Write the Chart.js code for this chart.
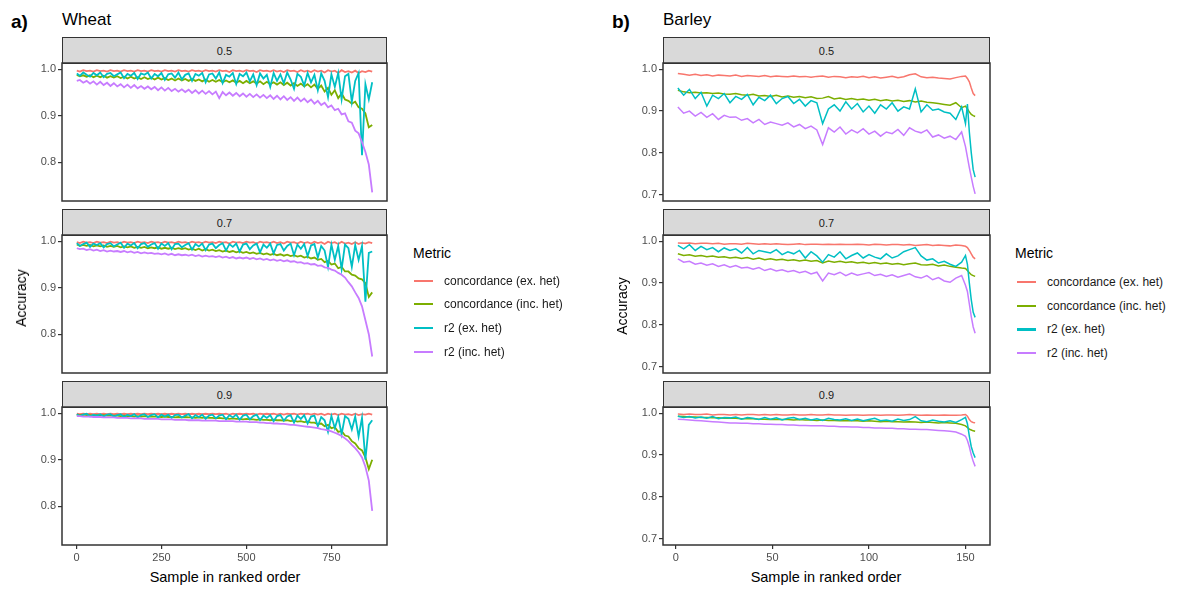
<!DOCTYPE html>
<html>
<head>
<meta charset="utf-8">
<script src="https://cdn.jsdelivr.net/npm/chart.js@4.4.0/dist/chart.umd.min.js"></script>
<style>
  body { margin: 0; background: #fff; font-family: "Liberation Sans", Arial, sans-serif; }
  #page { position: relative; width: 1192px; height: 590px; overflow: hidden; }
  .txt { position: absolute; white-space: nowrap; line-height: 1; }
  .strip { position: absolute; box-sizing: border-box; background: #d9d9d9; border: 1.5px solid #333;
           font-size: 11px; color: #1a1a1a; display: flex; align-items: center; justify-content: center; }
  .key { position: absolute; }
</style>
</head>
<body>
<div id="page"></div>
<script>
// ---- data ----
const metrics = ['concordance (ex. het)', 'concordance (inc. het)', 'r2 (ex. het)', 'r2 (inc. het)'];
const thresholds = ['0.5', '0.7', '0.9'];

const wheatTicksX = [0, 250, 500, 750];
const wheatTicksY = [0.8, 0.9, 1.0];
const barleyTicksX = [0, 50, 100, 150];
const barleyTicksY = [0.7, 0.8, 0.9, 1.0];

const wheatSamples = [
  1,10,20,30,40,50,60,70,80,90,
  100,110,120,130,140,150,160,170,180,190,
  200,210,220,230,240,250,260,270,280,290,
  300,310,320,330,340,350,360,370,380,390,
  400,410,420,430,440,450,460,470,480,490,
  500,510,520,530,540,550,560,570,580,590,
  600,610,620,630,640,650,660,670,680,690,
  700,710,720,730,740,750,760,770,780,790,
  800,810,820,830,840,850,860,870
];

const barleySamples = [
  1,4,7,10,13,16,19,22,25,28,
  31,34,37,40,43,46,49,52,55,58,
  61,64,67,70,73,76,79,82,85,88,
  91,94,97,100,103,106,109,112,115,118,
  121,124,127,130,133,136,139,142,145,148,
  150,151,152,153,154,155
];

// wheat, threshold 0.5
const wheat05ConcEx = [
  .997,.995,.998,.996,.997,.995,.998,.996,.997,.995,
  .998,.996,.997,.995,.998,.996,.997,.995,.998,.996,
  .997,.995,.998,.996,.997,.995,.998,.996,.997,.995,
  .998,.996,.997,.995,.998,.996,.997,.995,.998,.996,
  .997,.995,.998,.996,.997,.994,.998,.996,.997,.995,
  .998,.996,.997,.994,.998,.996,.997,.995,.998,.995,
  .997,.994,.998,.996,.997,.994,.998,.995,.997,.994,
  .998,.995,.997,.993,.998,.995,.997,.992,.998,.994,
  .996,.993,.997,.992,.996,.994,.997,.995
];
const wheat05ConcInc = [
  .988,.985,.987,.984,.987,.983,.986,.983,.986,.982,
  .985,.982,.985,.981,.984,.980,.984,.980,.983,.979,
  .983,.979,.982,.978,.982,.978,.981,.977,.980,.976,
  .980,.976,.979,.975,.979,.975,.978,.974,.978,.973,
  .977,.973,.977,.972,.976,.972,.976,.971,.975,.970,
  .975,.970,.974,.969,.974,.968,.973,.968,.972,.967,
  .972,.966,.971,.965,.970,.964,.969,.963,.968,.961,
  .967,.958,.965,.952,.960,.945,.955,.938,.948,.935,
  .932,.926,.930,.918,.915,.905,.875,.880
];
const wheat05R2Ex = [
  .991,.986,.993,.988,.984,.992,.987,.993,.983,.990,
  .992,.985,.989,.993,.981,.990,.986,.992,.979,.991,
  .988,.993,.980,.990,.985,.992,.977,.989,.991,.982,
  .993,.978,.988,.991,.975,.990,.986,.992,.972,.989,
  .991,.980,.993,.970,.988,.984,.992,.968,.990,.985,
  .993,.974,.989,.966,.991,.980,.988,.962,.992,.975,
  .989,.970,.993,.978,.958,.990,.984,.965,.992,.972,
  .988,.955,.991,.975,.940,.989,.962,.992,.935,.985,
  .990,.930,.975,.992,.815,.968,.935,.972
];
const wheat05R2Inc = [
  .975,.977,.971,.975,.969,.974,.967,.973,.966,.971,
  .964,.970,.963,.968,.961,.967,.960,.966,.959,.964,
  .958,.963,.957,.962,.955,.961,.954,.960,.953,.958,
  .952,.957,.951,.956,.949,.955,.948,.954,.947,.953,
  .946,.952,.938,.951,.944,.950,.943,.949,.942,.948,
  .941,.947,.940,.946,.939,.945,.938,.944,.936,.943,
  .935,.942,.934,.940,.932,.939,.931,.937,.929,.935,
  .926,.932,.923,.928,.918,.922,.912,.915,.903,.905,
  .888,.885,.868,.862,.843,.822,.795,.735
];

// wheat, threshold 0.7
const wheat07ConcEx = [
  .998,.996,.999,.997,.998,.996,.999,.997,.998,.996,
  .999,.997,.998,.996,.999,.997,.998,.996,.999,.997,
  .998,.996,.999,.997,.998,.996,.999,.997,.998,.996,
  .999,.997,.998,.996,.999,.997,.998,.996,.999,.997,
  .998,.996,.999,.997,.998,.995,.999,.997,.998,.996,
  .999,.997,.998,.995,.999,.997,.998,.996,.999,.996,
  .998,.995,.999,.997,.998,.995,.999,.996,.998,.995,
  .999,.996,.998,.994,.999,.996,.998,.994,.999,.995,
  .997,.994,.998,.994,.997,.995,.998,.996
];
const wheat07ConcInc = [
  .993,.990,.992,.990,.992,.989,.991,.989,.991,.988,
  .990,.988,.990,.987,.989,.987,.989,.986,.988,.986,
  .988,.985,.987,.985,.987,.984,.986,.984,.986,.983,
  .985,.983,.985,.982,.984,.981,.984,.980,.983,.980,
  .982,.979,.981,.978,.980,.977,.979,.976,.978,.975,
  .977,.974,.976,.973,.975,.972,.974,.971,.973,.970,
  .972,.969,.971,.968,.970,.967,.969,.965,.967,.963,
  .965,.960,.962,.955,.958,.950,.952,.942,.945,.935,
  .935,.928,.926,.920,.918,.910,.880,.890
];
const wheat07R2Ex = [
  .996,.990,.994,.997,.988,.995,.992,.996,.987,.994,
  .996,.989,.993,.997,.986,.995,.991,.996,.985,.994,
  .996,.988,.993,.996,.984,.995,.990,.996,.983,.994,
  .995,.987,.992,.996,.982,.994,.989,.995,.981,.993,
  .995,.985,.992,.996,.980,.994,.988,.995,.978,.993,
  .995,.983,.991,.995,.976,.993,.986,.995,.974,.992,
  .994,.980,.990,.995,.970,.993,.984,.994,.968,.991,
  .994,.965,.990,.980,.945,.993,.960,.990,.940,.993,
  .985,.945,.992,.960,.990,.870,.975,.978
];
const wheat07R2Inc = [
  .985,.983,.984,.981,.983,.980,.982,.979,.981,.978,
  .980,.978,.979,.977,.979,.976,.978,.975,.977,.974,
  .976,.974,.975,.973,.974,.972,.974,.971,.973,.970,
  .972,.970,.971,.969,.971,.968,.970,.967,.969,.967,
  .968,.966,.968,.965,.967,.964,.966,.963,.965,.963,
  .965,.962,.964,.961,.963,.960,.962,.959,.961,.958,
  .960,.957,.959,.956,.957,.954,.955,.952,.953,.950,
  .951,.947,.948,.944,.943,.939,.937,.932,.928,.922,
  .912,.903,.890,.878,.860,.830,.800,.752
];

// wheat, threshold 0.9
const wheat09ConcEx = [
  .999,.998,.999,.998,.999,.998,.999,.998,.999,.998,
  .999,.998,.999,.998,.999,.998,.999,.998,.999,.998,
  .999,.998,.999,.998,.999,.998,.999,.998,.999,.998,
  .999,.998,.999,.998,.999,.998,.999,.998,.999,.998,
  .999,.998,.999,.998,.999,.997,.999,.998,.999,.998,
  .999,.998,.999,.997,.999,.998,.999,.998,.999,.997,
  .999,.997,.999,.998,.999,.997,.999,.998,.999,.997,
  .999,.997,.999,.996,.999,.997,.999,.996,.999,.997,
  .998,.996,.999,.996,.998,.997,.999,.997
];
const wheat09ConcInc = [
  .997,.996,.997,.996,.996,.995,.996,.995,.996,.995,
  .995,.995,.995,.994,.995,.994,.994,.993,.994,.993,
  .994,.993,.993,.993,.993,.992,.993,.992,.992,.991,
  .992,.991,.992,.991,.991,.990,.991,.990,.991,.990,
  .990,.989,.990,.989,.989,.988,.989,.988,.988,.987,
  .988,.987,.987,.986,.987,.986,.986,.985,.986,.985,
  .985,.984,.985,.983,.984,.982,.983,.981,.982,.980,
  .980,.977,.978,.972,.975,.968,.970,.960,.962,.952,
  .950,.940,.935,.925,.920,.905,.880,.900
];
const wheat09R2Ex = [
  .998,.994,.997,.999,.993,.997,.995,.998,.993,.997,
  .998,.993,.996,.998,.992,.997,.994,.998,.991,.996,
  .998,.992,.996,.998,.991,.997,.993,.997,.990,.996,
  .997,.991,.995,.998,.989,.996,.992,.997,.988,.995,
  .997,.989,.995,.997,.987,.996,.991,.997,.986,.995,
  .997,.987,.994,.997,.985,.995,.990,.996,.983,.994,
  .996,.984,.993,.996,.980,.995,.988,.996,.978,.993,
  .995,.972,.992,.985,.960,.994,.968,.992,.955,.994,
  .988,.965,.993,.950,.990,.900,.975,.985
];
const wheat09R2Inc = [
  .994,.994,.993,.993,.993,.992,.992,.992,.991,.991,
  .991,.991,.990,.990,.990,.990,.989,.989,.989,.989,
  .988,.988,.988,.988,.988,.987,.987,.987,.987,.986,
  .986,.986,.986,.985,.985,.985,.985,.984,.984,.984,
  .984,.984,.983,.983,.983,.983,.983,.982,.982,.982,
  .982,.981,.981,.981,.980,.980,.979,.979,.978,.978,
  .977,.977,.976,.975,.975,.974,.973,.972,.971,.970,
  .969,.968,.966,.965,.963,.961,.958,.955,.951,.946,
  .940,.932,.925,.916,.905,.885,.855,.790
];

// barley, threshold 0.5
const barley05ConcEx = [
  .990,.988,.986,.988,.985,.987,.984,.986,.985,.984,
  .986,.983,.985,.984,.983,.985,.982,.984,.983,.982,
  .984,.982,.983,.981,.983,.984,.981,.983,.982,.980,
  .982,.981,.983,.980,.982,.979,.981,.983,.980,.982,
  .987,.989,.982,.980,.981,.979,.978,.977,.980,.983,
  .984,.978,.970,.955,.942,.937
];
const barley05ConcInc = [
  .950,.946,.944,.945,.943,.944,.942,.943,.941,.940,
  .942,.939,.938,.940,.936,.937,.935,.938,.934,.936,
  .933,.935,.932,.934,.930,.931,.935,.929,.931,.928,
  .930,.927,.929,.926,.928,.925,.927,.924,.926,.923,
  .925,.922,.924,.921,.920,.918,.916,.914,.920,.908,
  .912,.905,.898,.892,.889,.887
];
const barley05R2Ex = [
  .955,.938,.952,.930,.945,.912,.938,.930,.942,.920,
  .935,.928,.940,.915,.933,.925,.938,.918,.930,.935,
  .918,.928,.912,.925,.920,.870,.905,.915,.900,.922,
  .905,.918,.898,.912,.895,.915,.905,.920,.900,.910,
  .905,.953,.898,.915,.902,.905,.898,.895,.880,.910,
  .870,.917,.850,.800,.760,.742
];
const barley05R2Inc = [
  .910,.895,.900,.888,.897,.885,.894,.880,.890,.885,
  .886,.878,.882,.872,.880,.868,.874,.870,.866,.872,
  .862,.868,.858,.864,.855,.820,.860,.850,.862,.845,
  .855,.848,.858,.845,.852,.840,.850,.846,.856,.842,
  .860,.852,.848,.855,.838,.843,.835,.840,.832,.850,
  .815,.790,.765,.742,.720,.702
];

// barley, threshold 0.7
const barley07ConcEx = [
  .996,.995,.996,.994,.995,.995,.994,.995,.993,.994,
  .994,.993,.995,.994,.993,.994,.993,.994,.993,.992,
  .993,.994,.992,.993,.993,.992,.993,.992,.993,.992,
  .992,.993,.992,.991,.993,.992,.991,.992,.992,.991,
  .992,.990,.991,.992,.990,.991,.990,.989,.991,.990,
  .988,.985,.978,.970,.962,.958
];
const barley07ConcInc = [
  .970,.966,.968,.964,.966,.963,.965,.962,.963,.960,
  .962,.959,.961,.957,.960,.956,.958,.955,.957,.954,
  .956,.953,.955,.952,.954,.948,.953,.950,.952,.949,
  .951,.948,.950,.947,.949,.946,.948,.945,.947,.944,
  .946,.948,.944,.943,.945,.941,.943,.940,.938,.936,
  .935,.930,.925,.920,.918,.916
];
const barley07R2Ex = [
  .990,.982,.992,.978,.988,.980,.985,.975,.984,.978,
  .982,.972,.985,.970,.978,.975,.972,.980,.968,.975,
  .970,.978,.960,.975,.965,.950,.968,.962,.975,.958,
  .966,.972,.960,.968,.962,.958,.970,.960,.965,.975,
  .980,.985,.965,.955,.958,.948,.952,.945,.940,.950,
  .966,.945,.900,.860,.830,.818
];
const barley07R2Inc = [
  .958,.950,.952,.945,.948,.943,.946,.940,.944,.938,
  .942,.936,.938,.933,.937,.930,.934,.929,.932,.927,
  .930,.925,.928,.922,.926,.905,.924,.920,.926,.918,
  .924,.919,.922,.925,.918,.921,.916,.920,.914,.918,
  .922,.915,.912,.918,.908,.913,.905,.902,.912,.918,
  .895,.880,.850,.820,.795,.780
];

// barley, threshold 0.9
const barley09ConcEx = [
  .998,.997,.998,.997,.997,.998,.996,.997,.997,.996,
  .997,.996,.997,.997,.996,.997,.996,.997,.996,.996,
  .997,.996,.996,.997,.996,.996,.997,.996,.996,.995,
  .996,.996,.995,.996,.996,.995,.996,.996,.995,.996,
  .997,.996,.995,.996,.995,.995,.996,.995,.995,.996,
  .997,.993,.985,.980,.978,.977
];
const barley09ConcInc = [
  .993,.992,.991,.991,.990,.990,.989,.989,.988,.988,
  .988,.987,.987,.987,.986,.986,.985,.986,.985,.985,
  .984,.985,.984,.984,.983,.984,.983,.983,.982,.983,
  .982,.982,.981,.982,.981,.980,.981,.980,.980,.979,
  .980,.979,.978,.979,.978,.977,.978,.977,.976,.973,
  .970,.966,.962,.960,.958,.957
];
const barley09R2Ex = [
  .993,.990,.992,.989,.991,.988,.992,.987,.990,.989,
  .991,.986,.990,.988,.985,.990,.986,.989,.984,.988,
  .990,.985,.988,.984,.987,.983,.988,.985,.984,.987,
  .983,.986,.982,.985,.988,.982,.984,.981,.986,.983,
  .985,.992,.982,.980,.984,.981,.979,.982,.978,.985,
  .990,.975,.945,.920,.905,.894
];
const barley09R2Inc = [
  .986,.985,.984,.983,.982,.981,.980,.979,.978,.977,
  .977,.976,.976,.975,.975,.974,.974,.973,.973,.972,
  .972,.971,.971,.970,.970,.970,.969,.969,.968,.968,
  .967,.967,.966,.966,.965,.965,.964,.964,.963,.963,
  .962,.962,.961,.961,.960,.959,.958,.957,.955,.950,
  .945,.935,.920,.900,.885,.873
];

// ---- layout / style ----
const colors = ['#F8766D', '#7CAE00', '#00BFC4', '#C77CFF'];
const Y_AXIS_W = 36;
const X_AXIS_H = 22;
const PAD = 2;

Chart.defaults.font.family = '"Liberation Sans", Arial, sans-serif';

const panels = [
  {
    xs: wheatSamples, ticksX: wheatTicksX, ticksY: wheatTicksY,
    series: [
      [wheat05ConcEx, wheat05ConcInc, wheat05R2Ex, wheat05R2Inc],
      [wheat07ConcEx, wheat07ConcInc, wheat07R2Ex, wheat07R2Inc],
      [wheat09ConcEx, wheat09ConcInc, wheat09R2Ex, wheat09R2Inc]
    ],
    plotLeft: 62, plotW: 325, stripTops: [37, 209, 381], stripH: 26, plotH: 138,
    xMin: -42.5, xMax: 913.5, yMin: 0.7165, yMax: 1.0135, lineW: 1.8
  },
  {
    xs: barleySamples, ticksX: barleyTicksX, ticksY: barleyTicksY,
    series: [
      [barley05ConcEx, barley05ConcInc, barley05R2Ex, barley05R2Inc],
      [barley07ConcEx, barley07ConcInc, barley07R2Ex, barley07R2Inc],
      [barley09ConcEx, barley09ConcInc, barley09R2Ex, barley09R2Inc]
    ],
    plotLeft: 663, plotW: 327, stripTops: [37, 209, 381], stripH: 26, plotH: 138,
    xMin: -6.7, xMax: 162.7, yMin: 0.685, yMax: 1.015, lineW: 1.5
  }
];

const page = document.getElementById('page');

function addText(text, css) {
  const d = document.createElement('div');
  d.className = 'txt';
  d.textContent = text;
  Object.assign(d.style, css);
  page.appendChild(d);
  return d;
}

const boxPlugin = {
  id: 'panelBox',
  afterDatasetsDraw(chart) {
    const a = chart.chartArea;
    const ctx = chart.ctx;
    ctx.save();
    ctx.strokeStyle = '#333';
    ctx.lineWidth = 1.5;
    ctx.strokeRect(a.left, a.top, a.right - a.left, a.bottom - a.top);
    ctx.restore();
  }
};

function makeFacet(p, i) {
  const plotTop = p.stripTops[i] + p.stripH;
  const isBottom = i === 2;

  const strip = document.createElement('div');
  strip.className = 'strip';
  strip.textContent = thresholds[i];
  Object.assign(strip.style, {
    left: p.plotLeft + 'px', top: p.stripTops[i] + 'px',
    width: p.plotW + 'px', height: (p.stripH + 1) + 'px'
  });
  page.appendChild(strip);

  const w = Y_AXIS_W + p.plotW + PAD;
  const h = PAD + p.plotH + (isBottom ? X_AXIS_H : PAD);
  const canvas = document.createElement('canvas');
  canvas.width = w;
  canvas.height = h;
  Object.assign(canvas.style, {
    position: 'absolute', left: (p.plotLeft - Y_AXIS_W) + 'px', top: (plotTop - PAD) + 'px',
    width: w + 'px', height: h + 'px'
  });
  page.appendChild(canvas);

  const datasets = p.series[i].map((ys, k) => ({
    label: metrics[k],
    data: p.xs.map((x, j) => ({ x: x, y: ys[j] })),
    borderColor: colors[k],
    backgroundColor: colors[k],
    borderWidth: p.lineW,
    pointRadius: 0,
    tension: 0,
    order: 4 - k
  }));

  const axisGrid = { display: true, drawOnChartArea: false, drawTicks: true, tickLength: 4, color: '#333', lineWidth: 1.2 };

  new Chart(canvas, {
    type: 'line',
    data: { datasets: datasets },
    options: {
      responsive: false,
      animation: false,
      layout: { padding: { top: PAD, right: PAD, left: 0, bottom: isBottom ? 0 : PAD } },
      plugins: { legend: { display: false }, tooltip: { enabled: false } },
      scales: {
        x: {
          type: 'linear', min: p.xMin, max: p.xMax, display: isBottom,
          grid: axisGrid, border: { display: false },
          ticks: { color: '#4d4d4d', font: { size: 11 }, padding: 2, maxRotation: 0, autoSkip: false },
          afterBuildTicks: s => { s.ticks = p.ticksX.map(v => ({ value: v })); },
          afterFit: s => { s.height = isBottom ? X_AXIS_H : 0; s.paddingLeft = 0; s.paddingRight = 0; }
        },
        y: {
          type: 'linear', min: p.yMin, max: p.yMax,
          grid: axisGrid, border: { display: false },
          ticks: { color: '#4d4d4d', font: { size: 11 }, padding: 2, callback: v => v.toFixed(1) },
          afterBuildTicks: s => { s.ticks = p.ticksY.map(v => ({ value: v })); },
          afterFit: s => { s.width = Y_AXIS_W; s.paddingTop = 0; s.paddingBottom = 0; }
        }
      }
    },
    plugins: [boxPlugin]
  });
}

panels.forEach(p => { for (let i = 0; i < 3; i++) makeFacet(p, i); });

// panel titles
addText('a)', { left: '11px', top: '12px', fontSize: '19px', fontWeight: 'bold', color: '#000' });
addText('Wheat', { left: '62px', top: '11px', fontSize: '17px', color: '#000' });
addText('b)', { left: '612px', top: '12px', fontSize: '19px', fontWeight: 'bold', color: '#000' });
addText('Barley', { left: '663px', top: '11px', fontSize: '17px', color: '#000' });

// axis titles
function yTitle(cx, cy) {
  const d = addText('Accuracy', { left: cx + 'px', top: cy + 'px', fontSize: '14px', color: '#000' });
  d.style.transform = 'translate(-50%, -50%) rotate(-90deg)';
}
yTitle(21, 298);
yTitle(622, 306);
function xTitle(cx, cy) {
  const d = addText('Sample in ranked order', { left: cx + 'px', top: cy + 'px', fontSize: '14.5px', color: '#000' });
  d.style.transform = 'translate(-50%, -50%)';
}
xTitle(225, 577);
xTitle(826, 577);

// legends
function legend(x0, titleY, lineX, textX, ys, widths) {
  addText('Metric', { left: x0 + 'px', top: (titleY - 8) + 'px', fontSize: '14px', color: '#000' });
  metrics.forEach((m, k) => {
    const line = document.createElement('div');
    line.className = 'key';
    Object.assign(line.style, {
      left: lineX + 'px', top: (ys[k] - widths[k] / 2) + 'px', width: '19px',
      height: widths[k] + 'px', background: colors[k]
    });
    page.appendChild(line);
    addText(m, { left: textX + 'px', top: (ys[k] - 6) + 'px', fontSize: '12px', color: '#1a1a1a' });
  });
}
legend(413, 254, 414, 444, [281, 304, 328, 352], [2, 2, 2, 2]);
legend(1015, 254, 1017, 1047, [282, 306, 329, 353], [1.2, 2, 3, 2]);
</script>
</body>
</html>
